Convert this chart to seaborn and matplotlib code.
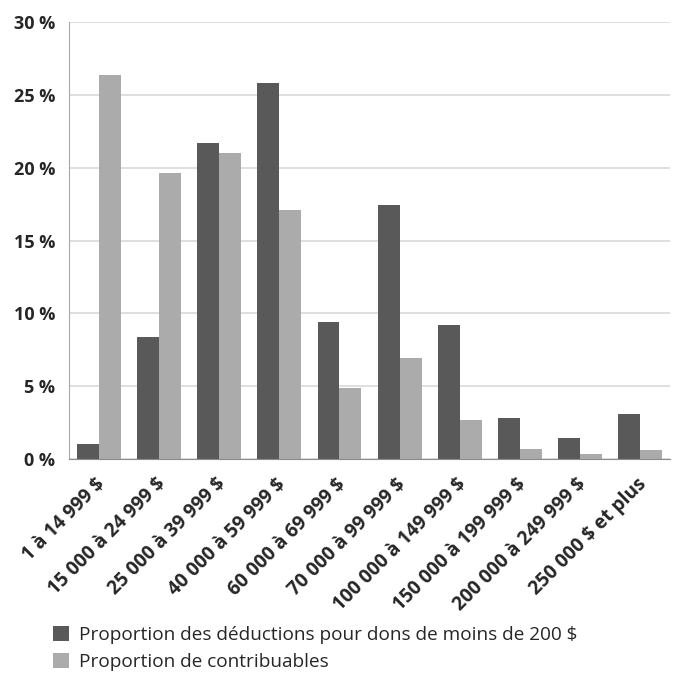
import matplotlib
matplotlib.use("Agg")
import matplotlib.pyplot as plt
import matplotlib.ticker as ticker
import matplotlib.transforms as mtransforms
import seaborn as sns
import pandas as pd

#%% Data
tranches = ['1 à 14 999 $', '15 000 à 24 999 $', '25 000 à 39 999 $', '40 000 à 59 999 $',
            '60 000 à 69 999 $', '70 000 à 99 999 $', '100 000 à 149 999 $',
            '150 000 à 199 999 $', '200 000 à 249 999 $', '250 000 $ et plus']
prop_deductions = [1.0, 8.4, 21.7, 25.8, 9.4, 17.45, 9.2, 2.8, 1.45, 3.1]
prop_contribuables = [26.4, 19.65, 21.0, 17.1, 4.9, 6.95, 2.7, 0.7, 0.35, 0.65]
serie_1 = 'Proportion des déductions pour dons de moins de 200 $'
serie_2 = 'Proportion de contribuables'

df = pd.DataFrame({
    'tranche': tranches * 2,
    'valeur': prop_deductions + prop_contribuables,
    'serie': [serie_1] * len(tranches) + [serie_2] * len(tranches),
})

#%% Plot
sns.set_style("white")
plt.rcParams['font.family'] = ['Open Sans', 'DejaVu Sans']

fig = plt.figure(figsize=(6.75, 6.73), dpi=100)
ax = fig.add_axes([0.102, 0.318, 0.891, 0.649])

sns.barplot(data=df, x='tranche', y='valeur', hue='serie',
            palette=['#595959', '#ABABAB'], width=0.73, saturation=1,
            gap=0, linewidth=0, ax=ax)

ax.set_ylim(0, 30)
ax.set_xlim(-0.5, len(tranches) - 0.5)
ax.set_yticks(range(0, 31, 5))
ax.yaxis.set_major_formatter(ticker.FuncFormatter(lambda v, _: f'{int(v)} %'))
ax.yaxis.grid(True, color='#D9D9D9', linewidth=1.2)
ax.set_axisbelow(True)
ax.set_xlabel('')
ax.set_ylabel('')

for s in ['top', 'right']:
    ax.spines[s].set_visible(False)
ax.spines['left'].set_color('#A6A6A6')
ax.spines['bottom'].set_color('#8C8C8C')

# ticks between categories like Excel
ax.set_xticks([i - 0.5 for i in range(len(tranches) + 1)], minor=True)
ax.tick_params(axis='x', which='minor', length=4, color='#8C8C8C', direction='out')
ax.tick_params(axis='x', which='major', length=0, pad=11)
ax.tick_params(axis='y', length=0, pad=10)

decal = mtransforms.ScaledTranslation(-4 / 100, 0, fig.dpi_scale_trans)
for lbl in ax.get_xticklabels():
    lbl.set_transform(lbl.get_transform() + decal)
plt.setp(ax.get_xticklabels(), rotation=45, ha='right', rotation_mode='anchor',
         fontsize=13.8, fontweight='bold', family=['Open Sans', 'DejaVu Sans'])
plt.setp(ax.get_yticklabels(), fontsize=13, fontweight='bold',
         family=['Open Sans', 'DejaVu Sans'])

handles, labels = ax.get_legend_handles_labels()
ax.get_legend().remove()
fig.legend(handles, labels, loc='lower left', bbox_to_anchor=(0.067, -0.009),
           frameon=False, handlelength=0.85, handleheight=0.85,
           handletextpad=0.5, labelspacing=0.5, borderaxespad=0,
           prop={'family': ['Open Sans', 'DejaVu Sans'], 'size': 13.7})

fig.savefig('out.png', dpi=100)
